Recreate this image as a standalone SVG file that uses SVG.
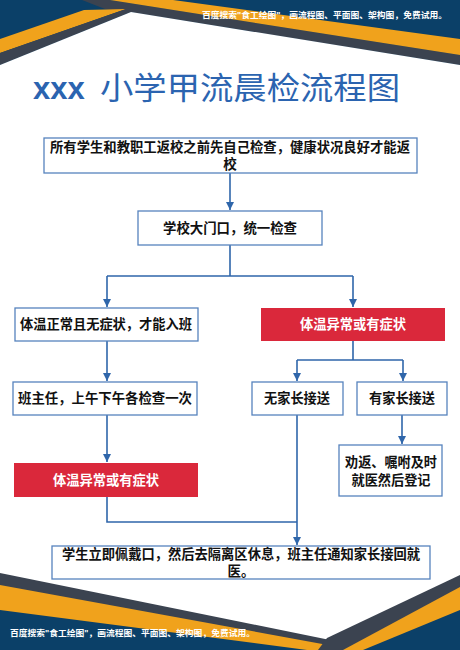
<svg xmlns="http://www.w3.org/2000/svg" width="460" height="650" viewBox="0 0 460 650">
<style>
.box{fill:#ffffff;stroke:#5683bd;stroke-width:1.3}
.red{fill:#da283b}
.t{font-family:"Liberation Sans","Noto Sans CJK SC",sans-serif;font-weight:bold;font-size:13.5px;fill:#111111;text-anchor:middle}
.w{fill:#ffffff}
.con{fill:none;stroke:#2f66aa;stroke-width:1.6}
.wm{font-family:"Liberation Sans","Noto Sans CJK SC",sans-serif;font-weight:bold;font-size:8.5px;fill:#ffffff}
.navy{fill:#0b4068}
.org{fill:#f0a21c}
.gry{fill:#3b4350}
</style>
<defs>
<marker id="ah" markerUnits="userSpaceOnUse" markerWidth="9" markerHeight="8" refX="8" refY="4" orient="auto">
<path d="M0,0 L8,4 L0,8 z" fill="#2f66aa"/>
</marker>
</defs>
<rect width="460" height="650" fill="#ffffff"/>
<g id="decor-top">
<rect class="navy" x="0" y="0" width="460" height="66"/>
<polygon class="gry" points="82,0 110,0 460,55 460,65 130,12 105,9"/>
<polygon class="org" points="110,0 173,0 460,39 460,55"/>
<polygon class="org" points="0,39 84,10 126,9 0,53"/>
<polygon class="gry" points="0,53 126,9 131,12 0,65"/>
<polygon fill="#ffffff" points="0,65 131,12 460,65 460,70 0,70"/>
<text class="wm" x="202" y="18" textLength="245" lengthAdjust="spacingAndGlyphs">百度搜索"食工绘图"，画流程图、平面图、架构图，免费试用。</text>
</g>
<g id="decor-bottom">
<polygon class="gry" points="0,573 330,640 330,650 0,650"/>
<polygon class="org" points="0,585 355,650 0,650"/>
<polygon class="navy" points="0,610 307,650 0,650"/>
<polygon class="gry" points="460,575 327,638 318,650 460,650"/>
<polygon class="org" points="460,587 343,650 460,650"/>
<polygon class="navy" points="460,610 363,650 460,650"/>
<text class="wm" x="10" y="636" textLength="245" lengthAdjust="spacingAndGlyphs">百度搜索"食工绘图"，画流程图、平面图、架构图，免费试用。</text>
</g>
<g id="title">
<text x="33" y="99" font-family="'Liberation Sans',sans-serif" font-weight="bold" font-size="31" fill="#2b64b0">xxx</text>
<text x="100" y="99" font-family="'Noto Sans CJK SC',sans-serif" font-size="31" fill="#2b64b0" textLength="300" lengthAdjust="spacingAndGlyphs">小学甲流晨检流程图</text>
</g>
<g id="connectors">
<path class="con" d="M230,173 V210" marker-end="url(#ah)"/>
<path class="con" d="M230,245 V276 M107,276 H353"/>
<path class="con" d="M107,276 V307" marker-end="url(#ah)"/>
<path class="con" d="M353,276 V307" marker-end="url(#ah)"/>
<path class="con" d="M353,341 V360 M297,360 H403"/>
<path class="con" d="M297,360 V381" marker-end="url(#ah)"/>
<path class="con" d="M403,360 V381" marker-end="url(#ah)"/>
<path class="con" d="M107,341 V381" marker-end="url(#ah)"/>
<path class="con" d="M107,415 V462" marker-end="url(#ah)"/>
<path class="con" d="M402,415 V444" marker-end="url(#ah)"/>
<path class="con" d="M107,497 V522 H297"/>
<path class="con" d="M297,415 V545" marker-end="url(#ah)"/>
</g>
<g id="n1">
<rect class="box" x="44" y="138" width="373" height="35"/>
<text class="t" x="230" y="152" textLength="360" lengthAdjust="spacingAndGlyphs">所有学生和教职工返校之前先自己检查，健康状况良好才能返</text>
<text class="t" x="230" y="169">校</text>
</g>
<g id="n2">
<rect class="box" x="138" y="211" width="184" height="34"/>
<text class="t" x="230" y="233" textLength="134" lengthAdjust="spacingAndGlyphs">学校大门口，统一检查</text>
</g>
<g id="n3">
<rect class="box" x="15" y="308" width="183" height="33"/>
<text class="t" x="106" y="329" textLength="172" lengthAdjust="spacingAndGlyphs">体温正常且无症状，才能入班</text>
</g>
<g id="n4">
<rect class="red" x="261" y="308" width="184" height="33"/>
<text class="t w" x="353" y="329" textLength="106" lengthAdjust="spacingAndGlyphs">体温异常或有症状</text>
</g>
<g id="n5">
<rect class="box" x="13" y="382" width="184" height="33"/>
<text class="t" x="105" y="403" textLength="174" lengthAdjust="spacingAndGlyphs">班主任，上午下午各检查一次</text>
</g>
<g id="n6">
<rect class="box" x="252" y="382" width="91" height="33"/>
<text class="t" x="297" y="403" textLength="66" lengthAdjust="spacingAndGlyphs">无家长接送</text>
</g>
<g id="n7">
<rect class="box" x="357" y="382" width="90" height="33"/>
<text class="t" x="402" y="403" textLength="66" lengthAdjust="spacingAndGlyphs">有家长接送</text>
</g>
<g id="n8">
<rect class="red" x="14" y="463" width="184" height="34"/>
<text class="t w" x="106" y="485" textLength="106" lengthAdjust="spacingAndGlyphs">体温异常或有症状</text>
</g>
<g id="n9">
<rect class="box" x="339" y="445" width="103" height="51"/>
<text class="t" x="391" y="467" textLength="92" lengthAdjust="spacingAndGlyphs">劝返、嘱咐及时</text>
<text class="t" x="391" y="485" textLength="79" lengthAdjust="spacingAndGlyphs">就医然后登记</text>
</g>
<g id="n10">
<rect class="box" x="52" y="546" width="378" height="33"/>
<text class="t" x="241" y="559" textLength="358" lengthAdjust="spacingAndGlyphs">学生立即佩戴口，然后去隔离区休息，班主任通知家长接回就</text>
<text class="t" x="241" y="576">医。</text>
</g>
</svg>
